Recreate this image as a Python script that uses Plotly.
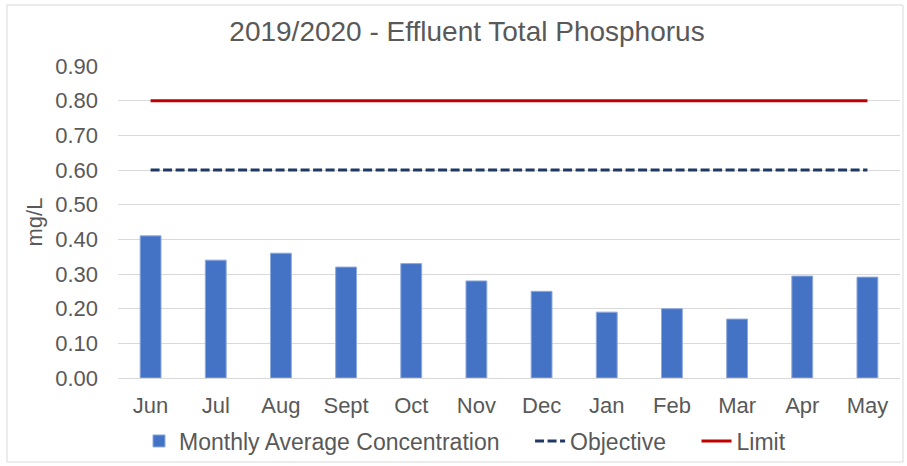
import plotly.graph_objects as go

months = ["Jun", "Jul", "Aug", "Sept", "Oct", "Nov", "Dec", "Jan", "Feb", "Mar", "Apr", "May"]
monthly_avg = [0.41, 0.34, 0.36, 0.32, 0.33, 0.28, 0.25, 0.19, 0.20, 0.17, 0.294, 0.291]
objective = [0.60] * 12
limit = [0.80] * 12
y_ticks = [0.0, 0.1, 0.2, 0.3, 0.4, 0.5, 0.6, 0.7, 0.8, 0.9]

font_family = "Liberation Sans, Arial, sans-serif"
grey = "#595959"
pad = "\u00a0" * 4

fig = go.Figure()
fig.add_trace(go.Bar(
    x=months, y=monthly_avg, name="Monthly Average Concentration" + pad,
    marker=dict(color="#4472C4", line=dict(color="#8FAADC", width=1)),
    width=0.32,
))
fig.add_trace(go.Scatter(
    x=months, y=objective, name="Objective" + pad, mode="lines",
    line=dict(color="#203864", width=3, dash="9px,3.5px"),
))
fig.add_trace(go.Scatter(
    x=months, y=limit, name="Limit", mode="lines",
    line=dict(color="#C00000", width=3),
))

fig.update_layout(
    width=907, height=466,
    margin=dict(l=118, r=7, t=66, b=88, autoexpand=False),
    paper_bgcolor="white", plot_bgcolor="white",
    font=dict(family=font_family, color=grey, size=22),
    title=dict(text="2019/2020 - Effluent Total Phosphorus", x=467/907, xanchor="center",
               y=1 - 31/466, yanchor="middle", font=dict(size=28, color=grey)),
    showlegend=True,
    legend=dict(orientation="h", x=(465 - 118) / 782, xanchor="center", y=-(441 - 378) / 312,
                yanchor="middle", font=dict(size=23, color=grey), itemwidth=30, tracegroupgap=0,
                bgcolor="rgba(0,0,0,0)"),
    xaxis=dict(showgrid=False, ticks="", showline=False, automargin=False,
               ticklabelstandoff=12, tickfont=dict(size=22, color=grey)),
    yaxis=dict(range=[0, 0.9], tickvals=y_ticks, tickformat=".2f", automargin=False,
               showgrid=True, gridcolor="#D9D9D9", gridwidth=1,
               zeroline=True, zerolinecolor="#D9D9D9", zerolinewidth=1,
               showline=False, ticks="", ticklen=0, ticklabelstandoff=19,
               tickfont=dict(size=22, color=grey),
               title=dict(text="mg/L", font=dict(size=22, color=grey), standoff=6)),
)
fig.add_shape(type="rect", xref="paper", yref="paper",
              x0=-111/782, x1=1 + 3/782, y0=-84/312, y1=1 + 61/312,
              line=dict(color="#D9D9D9", width=1), fillcolor="rgba(0,0,0,0)")

fig.write_html("out.html", config={"displayModeBar": False},
               post_script="document.body.style.margin='0';")
